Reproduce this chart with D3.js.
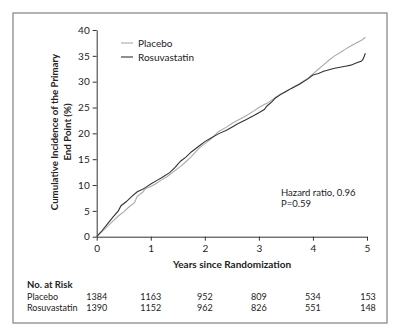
<!DOCTYPE html>
<html><head><meta charset="utf-8">
<script src="https://cdn.jsdelivr.net/npm/d3@7"></script>
<style>body{margin:0;background:#fff;}svg text{font-family:Lato,"Open Sans",sans-serif;fill:#222;}</style>
</head><body><svg id="c" width="400" height="336"></svg>
<script>
const years = [0,1,2,3,4,5];
const yTicks = [0,5,10,15,20,25,30,35,40];
const placeboT = [0,0.1,0.2,0.3,0.4,0.5,0.6,0.7,0.75,0.85,0.9,1.0,1.1,1.2,1.3,1.4,1.55,1.65,1.75,1.9,2.0,2.1,2.25,2.4,2.5,2.6,2.75,2.9,3.0,3.1,3.15,3.25,3.3,3.4,3.5,3.6,3.75,3.9,4.0,4.1,4.2,4.3,4.4,4.5,4.6,4.7,4.8,4.9,4.97];
const placeboV = [0,1.0,2.0,3.0,4.0,4.8,5.8,6.6,7.8,8.6,9.3,9.7,10.3,11.0,11.6,12.4,13.6,14.5,15.5,17.2,18.0,18.8,20.3,21.2,21.9,22.5,23.3,24.3,25.0,25.6,25.8,26.5,26.9,27.6,28.1,28.7,29.6,30.6,31.5,32.4,33.3,34.2,35.0,35.6,36.3,36.9,37.5,38.0,38.6];
const rosuT = [0,0.1,0.2,0.3,0.4,0.45,0.55,0.65,0.75,0.85,0.9,1.0,1.1,1.2,1.35,1.45,1.55,1.65,1.75,1.9,2.0,2.1,2.25,2.4,2.5,2.6,2.75,2.9,3.0,3.1,3.15,3.25,3.3,3.4,3.5,3.6,3.75,3.9,4.0,4.1,4.2,4.3,4.4,4.5,4.6,4.7,4.8,4.9,4.93,4.97];
const rosuV = [0,1.2,2.5,3.8,5.0,6.0,6.8,7.8,8.7,9.2,9.5,10.2,10.8,11.4,12.4,13.4,14.6,15.4,16.4,17.6,18.4,19.0,19.9,20.6,21.2,21.8,22.6,23.4,24.0,24.6,25.3,26.2,26.8,27.5,28.1,28.7,29.5,30.5,31.3,31.6,32.0,32.3,32.6,32.8,33.0,33.2,33.6,34.0,34.4,35.5];
const riskRows = ["Placebo","Rosuvastatin"];
const riskPlacebo = [1384,1163,952,809,534,153];
const riskRosu = [1390,1152,962,826,551,148];

const FONT = "Lato,'Open Sans',sans-serif";
const svg = d3.select("#c");
svg.append("rect").attr("x",13).attr("y",13).attr("width",374).attr("height",310)
  .attr("fill","#fff").attr("stroke","#9a9a9a").attr("stroke-width",1.5);

const x = d3.scaleLinear().domain([0,5]).range([96.7,367]);
const y = d3.scaleLinear().domain([0,40]).range([236.7,30]);

const gx = svg.append("g").attr("transform","translate(0,236.7)")
  .call(d3.axisBottom(x).tickValues(years).tickSize(4).tickSizeOuter(0).tickFormat(d3.format("d")));
const gy = svg.append("g").attr("transform","translate(96.7,0)")
  .call(d3.axisLeft(y).tickValues(yTicks).tickSize(4).tickSizeOuter(0));
[gx,gy].forEach(g=>{
  g.selectAll("path,line").attr("stroke","#333");
  g.selectAll("text").attr("font-size",10).attr("fill","#444").style("font-family",FONT);
});
gx.selectAll("text").attr("dy","0.85em");

svg.append("text").attr("x",232).attr("y",268).attr("text-anchor","middle")
  .attr("font-size",10).attr("font-weight","bold").text("Years since Randomization");
const yl = svg.append("text").attr("transform","translate(58,132) rotate(-90)").attr("text-anchor","middle").attr("font-size",9.7).attr("font-weight","bold").attr("fill","#333");
yl.append("tspan").attr("x",0).attr("dy",0).text("Cumulative Incidence of the Primary");
yl.append("tspan").attr("x",0).attr("dy","1.3em").text("End Point (%)");

const line = d3.line().x(d=>x(d[0])).y(d=>y(d[1]));
svg.append("path").datum(placeboT.map((t,i)=>[t,placeboV[i]])).attr("d",line)
  .attr("fill","none").attr("stroke","#aaa").attr("stroke-width",1.1);
svg.append("path").datum(rosuT.map((t,i)=>[t,rosuV[i]])).attr("d",line)
  .attr("fill","none").attr("stroke","#333").attr("stroke-width",1.1);

const leg = [["Placebo","#aaa",43],["Rosuvastatin","#333",57]];
leg.forEach(l=>{
  svg.append("line").attr("x1",121).attr("x2",133).attr("y1",l[2]).attr("y2",l[2]).attr("stroke",l[1]).attr("stroke-width",1.1);
  svg.append("text").attr("x",138).attr("y",l[2]+3.5).attr("font-size",10).text(l[0]);
});

svg.append("text").attr("x",281).attr("y",196).attr("font-size",9.5).text("Hazard ratio, 0.96");
svg.append("text").attr("x",281).attr("y",207).attr("font-size",9.5).text("P=0.59");

svg.append("text").attr("x",27).attr("y",288).attr("font-size",9.5).attr("font-weight","bold").text("No. at Risk");
[[riskRows[0],riskPlacebo,299.5],[riskRows[1],riskRosu,310.5]].forEach(r=>{
  svg.append("text").attr("x",27).attr("y",r[2]).attr("font-size",9).text(r[0]);
  r[1].forEach((v,i)=>{
    svg.append("text").attr("x",x(years[i])+(i===5?1:0)).attr("y",r[2]).attr("text-anchor","middle").attr("font-size",9).text(v);
  });
});
</script></body></html>
